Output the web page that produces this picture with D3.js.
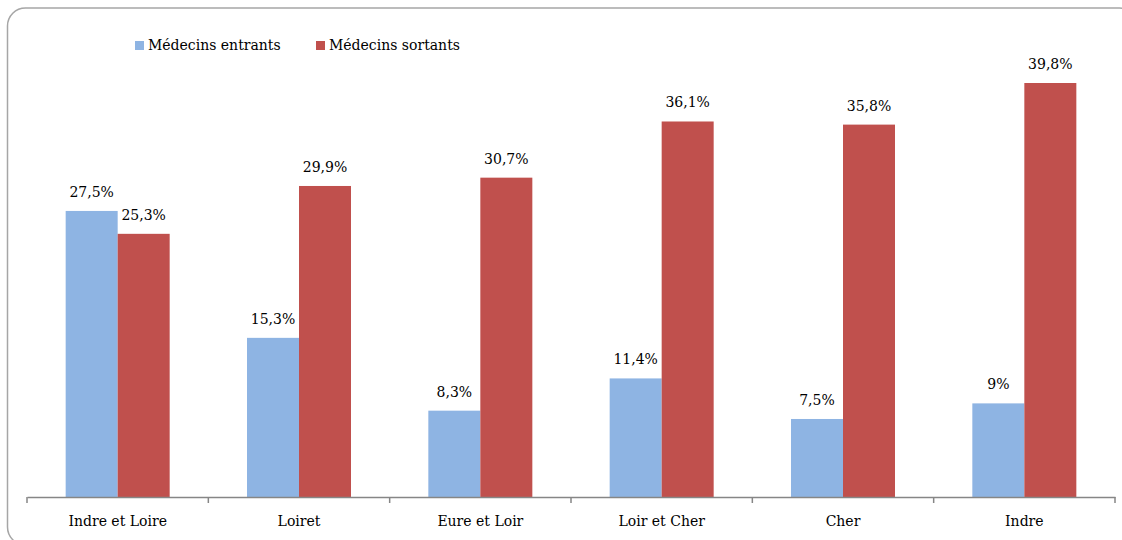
<!DOCTYPE html>
<html><head><meta charset="utf-8">
<script src="https://cdn.jsdelivr.net/npm/d3@7"></script>
<style>body{margin:0;background:#fff}svg{display:block}svg text{font-family:"DejaVu Serif","Liberation Serif",serif !important;fill:#000}</style>
</head><body>
<svg id="c" width="1122" height="540"></svg>
<script>
const categories = ["Indre et Loire","Loiret","Eure et Loir","Loir et Cher","Cher","Indre"];
const entrants = [27.5,15.3,8.3,11.4,7.5,9];
const sortants = [25.3,29.9,30.7,36.1,35.8,39.8];
const seriesNames = ["Médecins entrants","Médecins sortants"];
const colors = ["#8EB4E3","#C0504D"];
const fmt = v => String(v).replace(".", ",") + "%";
const FS = 14;

const svg = d3.select("#c");
svg.append("rect").attr("x",7.5).attr("y",8).attr("width",1130).attr("height",537)
  .attr("rx",18).attr("fill","none").attr("stroke","#a6a6a6").attr("stroke-width",1.5);

const x0 = 27, x1 = 1115, y0 = 497;
const x = d3.scaleBand().domain(categories).range([x0,x1]).paddingInner(0).paddingOuter(0);
const inner = d3.scaleBand().domain([0,1]).range([0,104]);
const y = d3.scaleLinear().domain([0,39.8]).range([y0,83]);

const data = categories.map((c,i)=>({c, v:[entrants[i],sortants[i]]}));
const g = svg.append("g");
const grp = g.selectAll("g.cat").data(data).join("g")
  .attr("transform", d=>`translate(${x(d.c)+(x.bandwidth()-104)/2},0)`);
grp.selectAll("rect").data(d=>d.v.map((v,s)=>({v,s}))).join("rect")
  .attr("x",d=>inner(d.s)).attr("width",inner.bandwidth())
  .attr("y",d=>y(d.v)).attr("height",d=>y0-y(d.v)).attr("fill",d=>colors[d.s]);
grp.selectAll("text").data(d=>d.v.map((v,s)=>({v,s}))).join("text")
  .attr("x",d=>inner(d.s)+inner.bandwidth()/2).attr("y",d=>y(d.v)-14)
  .attr("text-anchor","middle").attr("font-size",FS).text(d=>fmt(d.v));

const axis = d3.axisBottom(x).tickSize(0).tickFormat(d=>d);
const ax = svg.append("g").attr("transform",`translate(0,${y0})`).call(axis);
ax.attr("font-family",null).attr("font-size",null);
ax.select(".domain").attr("stroke","#868686").attr("stroke-width",1.5);
ax.selectAll(".tick text").attr("font-size",FS).attr("dy",0).attr("y",29).attr("fill","#000");
const bounds = d3.range(categories.length+1).map(i=>x0+i*x.step());
ax.selectAll("line.sep").data(bounds).join("line").attr("class","sep")
  .attr("x1",d=>d).attr("x2",d=>d).attr("y1",0).attr("y2",6).attr("stroke","#868686").attr("stroke-width",1.5);

const leg = svg.append("g");
const legX = [135,316];
seriesNames.forEach((n,i)=>{
  leg.append("rect").attr("x",legX[i]).attr("y",41).attr("width",9).attr("height",9).attr("fill",colors[i]);
  leg.append("text").attr("x",legX[i]+13).attr("y",50).attr("font-size",FS).text(n);
});
</script>
</body></html>
